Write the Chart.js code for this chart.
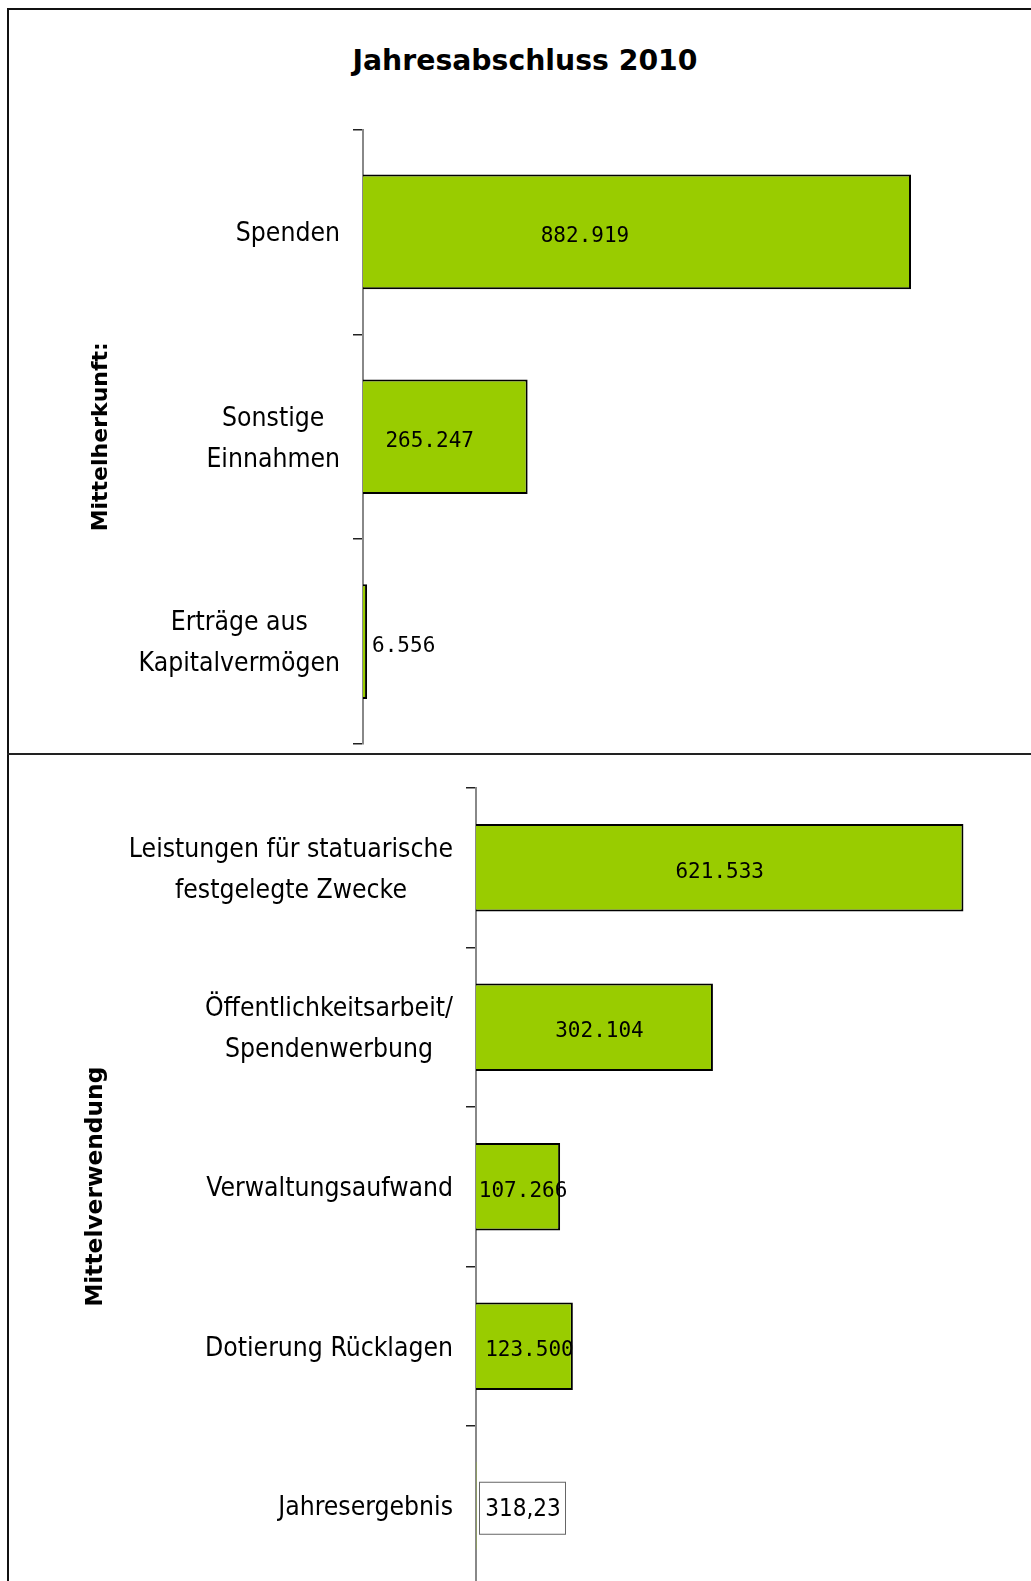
<!DOCTYPE html>
<html><head><meta charset="utf-8">
<script src="https://cdn.jsdelivr.net/npm/chart.js@4.4.1/dist/chart.umd.min.js"></script>
<style>
html,body{margin:0;padding:0;background:#fff;overflow:hidden;}
#wrap{position:relative;width:1031px;height:1581px;overflow:hidden;background:#fff;}
#wrap canvas{position:absolute;left:0;}
#frame{position:absolute;left:7px;top:8px;width:1100px;height:1700px;border-left:2px solid #111;border-top:2px solid #111;}
#divider{position:absolute;left:7px;top:753px;width:1100px;height:0;border-top:2px solid #222;}
#title{position:absolute;left:0;width:1050px;top:47px;line-height:28px;text-align:center;font-family:"DejaVu Sans",sans-serif;font-weight:bold;font-size:28.3px;color:#000;}
</style></head>
<body>
<div id="wrap">
  <div id="frame"></div>
  <div id="divider"></div>
  <div id="title"></div>
  <canvas id="top" width="1031" height="753" style="top:0px"></canvas>
  <canvas id="bottom" width="1031" height="840" style="top:755px"></canvas>
</div>
<script>
// ---- data ----
const chartTitle = 'Jahresabschluss 2010';
const topAxisTitle = 'Mittelherkunft:';
const topCategories = [['Spenden'], ['Sonstige', 'Einnahmen'], ['Erträge aus', 'Kapitalvermögen']];
const topValues = [882919, 265247, 6556];
const bottomAxisTitle = 'Mittelverwendung';
const bottomCategories = [['Leistungen für statuarische', 'festgelegte Zwecke'], ['Öffentlichkeitsarbeit/', 'Spendenwerbung'], ['Verwaltungsaufwand'], ['Dotierung Rücklagen'], ['Jahresergebnis']];
const bottomValues = [621533, 302104, 107266, 123500, 318.23];

document.getElementById('title').textContent = chartTitle;

function fmt(v) {
  if (Number.isInteger(v)) return String(v).replace(/\B(?=(\d{3})+(?!\d))/g, '.');
  return v.toFixed(2).replace('.', ',');
}

const GREEN = '#99CC00';
const LABEL_FONT = '26.3px "DejaVu Sans Condensed", "DejaVu Sans", sans-serif';
const VALUE_FONT = '21px "DejaVu Sans Mono", monospace';

// category labels: each block right aligned, lines centered within the block
const catLabelPlugin = {
  id: 'catLabels',
  afterDraw(chart) {
    const s = chart.scales.y; const ctx = chart.ctx;
    const cats = chart.data.labels;
    ctx.save();
    ctx.font = LABEL_FONT; ctx.fillStyle = '#000';
    ctx.textAlign = 'center'; ctx.textBaseline = 'middle';
    const lh = 41; const rightEdge = s.right - 23;
    cats.forEach((lines, i) => {
      const w = Math.max(...lines.map(l => ctx.measureText(l).width));
      const cx = rightEdge - w / 2;
      const y0 = s.getPixelForValue(i) - (lines.length - 1) * lh / 2;
      lines.forEach((l, j) => ctx.fillText(l, cx, y0 + j * lh + 2.5));
    });
    ctx.restore();
  }
};

const valueLabelPlugin = {
  id: 'valueLabels',
  afterDatasetsDraw(chart, args, opts) {
    const ctx = chart.ctx; const meta = chart.getDatasetMeta(0);
    const vals = chart.data.datasets[0].data;
    ctx.save();
    ctx.textBaseline = 'middle'; ctx.fillStyle = '#000';
    meta.data.forEach((bar, i) => {
      const v = vals[i]; const t = fmt(v);
      const left = bar.base, right = bar.x, w = right - left, y = bar.y + 4.5;
      if (v < 1000) {
        ctx.font = '24px "DejaVu Sans Condensed", "DejaVu Sans", sans-serif';
        const bx = left + 3, bw = 86, bh = 52, by = bar.y + 2 - bh / 2;
        ctx.fillStyle = '#fff'; ctx.fillRect(bx, by, bw, bh);
        ctx.strokeStyle = '#666'; ctx.lineWidth = 1;
        ctx.strokeRect(bx + 0.5, by + 0.5, bw, bh);
        ctx.fillStyle = '#000'; ctx.textAlign = 'center';
        ctx.fillText(t, bx + bw / 2 + 1, by + bh / 2 + 2);
        return;
      }
      ctx.font = VALUE_FONT;
      if (opts.mode === 'top') {
        if (w > 100) { ctx.textAlign = 'center'; ctx.fillText(t, left + 0.405 * w, y); }
        else { ctx.textAlign = 'left'; ctx.fillText(t, right + 5, y); }
      } else {
        ctx.textAlign = 'center';
        const shift = w < 300 ? 5 : 0;
        ctx.fillText(t, (left + right) / 2 + shift, y);
      }
    });
    ctx.restore();
  }
};

function makeChart(id, labels, values, axisTitle, opts) {
  return new Chart(document.getElementById(id), {
    type: 'bar',
    data: {
      labels: labels,
      datasets: [{
        data: values,
        backgroundColor: GREEN,
        borderColor: '#000',
        borderWidth: c => (c.raw < 1000 ? 0 : 2),
        barPercentage: opts.barPct,
        categoryPercentage: 1
      }]
    },
    options: {
      indexAxis: 'y',
      responsive: false,
      animation: false,
      devicePixelRatio: 1,
      layout: { padding: opts.padding },
      plugins: { legend: { display: false }, tooltip: { enabled: false }, title: { display: false },
                 valueLabels: { mode: opts.mode } },
      scales: {
        x: { display: false, min: 0, max: opts.max },
        y: {
          type: 'category', position: 'left', offset: true,
          grid: { display: true, drawOnChartArea: false, drawTicks: true, tickLength: 10, tickColor: '#222', lineWidth: 1.5, offset: true },
          border: { display: true, color: '#888', width: 2 },
          ticks: { display: false },
          title: { display: true, text: axisTitle, color: '#000',
                   font: { family: 'DejaVu Sans', weight: 'bold', size: opts.titleSize, lineHeight: 1.2 },
                   padding: { top: opts.titlePad, bottom: 0 } },
          afterFit(s) { s.width = opts.axisX; }
        }
      }
    },
    plugins: [catLabelPlugin, valueLabelPlugin]
  });
}

makeChart('top', topCategories, topValues, topAxisTitle, {
  max: 1000000, padding: { top: 129.5, bottom: 9, left: 0, right: 47.3 },
  axisX: 363, barPct: 0.56, mode: 'top', titleSize: 22, titlePad: 88
});
makeChart('bottom', bottomCategories, bottomValues, bottomAxisTitle, {
  max: 700000, padding: { top: 33, bottom: 9.5, left: 0, right: 6 },
  axisX: 476, barPct: 0.55, mode: 'bottom', titleSize: 23.3, titlePad: 82
});
</script>
</body></html>
